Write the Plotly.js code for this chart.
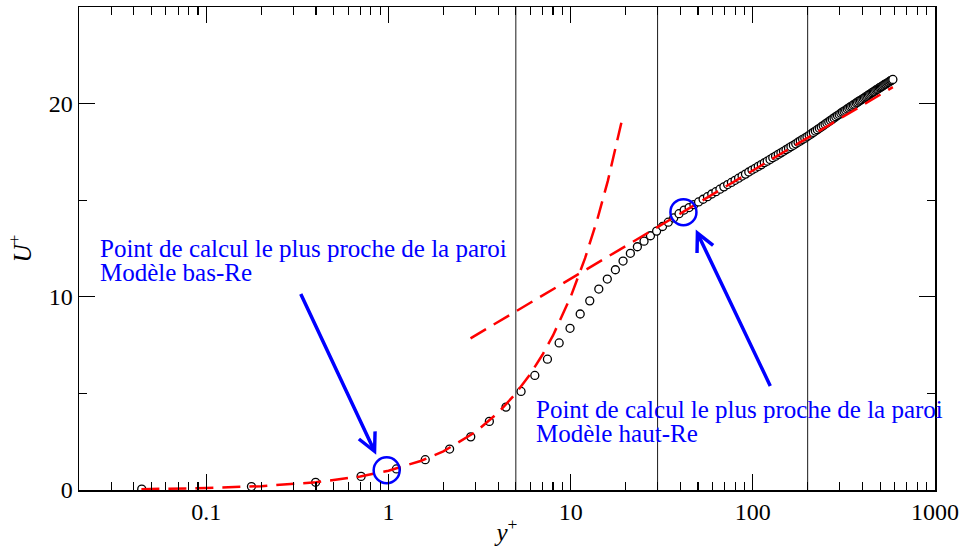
<!DOCTYPE html>
<html>
<head>
<meta charset="utf-8">
<script src="https://cdn.plot.ly/plotly-3.0.1.min.js"></script>
<style>html,body{margin:0;padding:0;background:#fff;}</style>
</head>
<body>
<div id="chart" style="width:961px;height:546px;"></div>
<script>
// DNS-like mean velocity profile (circles)
const yPlus = [0.0442,0.1769,0.398,0.707,1.105,1.591,2.165,2.828,3.578,4.416,5.342,6.356,7.456,8.645,9.920,11.28,12.73,14.27,15.89,17.60,19.39,21.27,23.24,25.28,27.42,29.64,31.94,34.33,36.79,39.35,41.98,44.70,47.50,50.38,53.34,56.38,59.50,62.70,65.98,69.34,72.77,76.28,79.88,83.54,87.28,91.10,95.00,98.96,103.0,107.1,111.3,115.6,119.9,124.3,128.7,133.3,137.9,142.6,147.3,152.1,157.0,161.9,166.9,172.0,177.1,182.3,187.6,192.9,198.2,203.7,209.1,214.7,220.3,225.9,231.6,237.4,243.2,249.1,255.0,261.0,267.0,273.0,279.2,285.3,291.5,297.8,304.1,310.4,316.8,323.2,329.6,336.1,342.7,349.2,355.8,362.5,369.2,375.9,382.6,389.4,396.2,403.0,409.9,416.7,423.6,430.6,437.5,444.5,451.5,458.5,465.6,472.6,479.7,486.8,493.9,501.0,508.2,515.3,522.5,529.6,536.8,544.0,551.2,558.4,565.6,572.8,580.0,587.2];
const uPlus = [0.044,0.177,0.398,0.705,1.09,1.57,2.12,2.75,3.55,4.29,5.10,5.93,6.77,7.61,8.37,9.11,9.79,10.40,10.92,11.40,11.85,12.25,12.59,12.88,13.16,13.40,13.64,13.86,14.08,14.30,14.49,14.62,14.77,14.91,15.05,15.18,15.32,15.44,15.57,15.69,15.81,15.92,16.03,16.14,16.25,16.35,16.46,16.56,16.65,16.75,16.84,16.94,17.02,17.11,17.20,17.28,17.37,17.45,17.53,17.61,17.69,17.77,17.84,17.92,18.00,18.07,18.15,18.21,18.28,18.36,18.43,18.51,18.58,18.65,18.72,18.79,18.86,18.93,19.00,19.06,19.13,19.19,19.26,19.32,19.38,19.44,19.50,19.56,19.61,19.66,19.72,19.77,19.83,19.87,19.93,19.97,20.03,20.07,20.13,20.17,20.21,20.26,20.30,20.35,20.39,20.44,20.48,20.52,20.57,20.61,20.64,20.69,20.73,20.76,20.81,20.84,20.88,20.91,20.95,20.99,21.02,21.05,21.09,21.12,21.16,21.19,21.22,21.25];

// viscous sublayer U+ = y+ (red dashed)
const visY = [0.044,0.1,0.2,0.4,0.7,1,1.5,2,3,4,5,6,7,8,10,12,14,16,19.4];
const visU = [0.044,0.1,0.2,0.4,0.7,1,1.5,2,3,4,5,6,7,8,10,12,14,16,19.4];

// log law (red dashed, straight on semi-log axes)
const logY = [2.82, 587];
const logU = [7.85, 20.85];

// vertical reference lines
const vLinesX = [5, 30, 200];
const vLineU = [0, 25];

// highlighted points (blue circles)
const hlX = [0.977, 41.6];
const hlY = [1.02, 14.38];

// arrows
const arrowTipX = [0.856, 48.6];
const arrowTipY = [1.82, 13.48];
const arrowTailX = [0.327, 125.8];
const arrowTailY = [10.22, 5.31];

// notes
const noteLine1 = ['Point de calcul le plus proche de la paroi', 'Point de calcul le plus proche de la paroi'];
const noteLine2 = ['Modèle bas-Re', 'Modèle haut-Re'];
const noteX = [0.0220, 0.5310];
const noteY1 = [0.500, 0.167];
const noteY2 = [0.450, 0.1176];

const FONT = 'Liberation Serif';

const traces = [];
vLinesX.forEach(v => traces.push({
  x: [v, v], y: vLineU, mode: 'lines', line: {color: '#1a1a1a', width: 1}, hoverinfo: 'skip', showlegend: false
}));
traces.push({
  x: yPlus, y: uPlus, mode: 'markers', showlegend: false,
  marker: {symbol: 'circle', size: 8, color: 'white', line: {color: 'black', width: 1.3}}
});
traces.push({
  x: visY, y: visU, mode: 'lines', showlegend: false,
  line: {color: '#ff0000', width: 2.5, dash: '18px,9px'}
});
traces.push({
  x: logY, y: logU, mode: 'lines', showlegend: false,
  line: {color: '#ff0000', width: 2.5, dash: '18px,9px'}
});
traces.push({
  x: hlX, y: hlY, mode: 'markers', showlegend: false,
  marker: {symbol: 'circle-open', size: 26, color: '#0000ff', line: {color: '#0000ff', width: 2.5}}
});

const annotations = [];
for (let i = 0; i < arrowTipX.length; i++) {
  annotations.push({
    x: Math.log10(arrowTipX[i]), y: arrowTipY[i], xref: 'x', yref: 'y',
    ax: Math.log10(arrowTailX[i]), ay: arrowTailY[i], axref: 'x', ayref: 'y',
    text: '', showarrow: true, arrowhead: 5, arrowsize: 1.0, arrowwidth: 3.5,
    arrowcolor: '#0000ff', standoff: 0, startstandoff: 0
  });
  annotations.push({
    x: noteX[i], y: noteY1[i], xref: 'paper', yref: 'paper', xanchor: 'left', yanchor: 'middle',
    text: noteLine1[i], showarrow: false, font: {family: FONT, size: 25, color: '#0000ff'}
  });
  annotations.push({
    x: noteX[i], y: noteY2[i], xref: 'paper', yref: 'paper', xanchor: 'left', yanchor: 'middle',
    text: noteLine2[i], showarrow: false, font: {family: FONT, size: 25, color: '#0000ff'}
  });
}

const axisCommon = {
  showgrid: false, zeroline: false, showline: true, linecolor: 'black', linewidth: 1.5,
  mirror: 'ticks', ticks: 'inside', ticklen: 16, tickwidth: 1.3, tickcolor: 'black',
  tickfont: {family: FONT, size: 24, color: 'black'}
};

const layout = {
  width: 961, height: 546,
  margin: {l: 79, r: 26, t: 7, b: 56},
  paper_bgcolor: 'white', plot_bgcolor: 'white',
  font: {family: FONT, size: 24, color: 'black'},
  showlegend: false,
  xaxis: Object.assign({}, axisCommon, {
    type: 'log', range: [Math.log10(0.02), 3], dtick: 1, exponentformat: 'none',
    minor: {dtick: 'D1', ticks: 'inside', ticklen: 8, tickwidth: 1.1, tickcolor: 'black', showgrid: false},
    title: {text: '<i>y</i><sup>+</sup>', font: {family: FONT, size: 25}, standoff: 4}
  }),
  yaxis: Object.assign({}, axisCommon, {
    range: [0, 25], dtick: 10, tick0: 0,
    minor: {dtick: 5, ticks: 'inside', ticklen: 8, tickwidth: 1.1, tickcolor: 'black', showgrid: false},
    title: {text: '<i>U</i><sup>+</sup>', font: {family: FONT, size: 25}, standoff: 10}
  }),
  annotations: annotations
};

Plotly.newPlot('chart', traces, layout, {staticPlot: true, displayModeBar: false});
</script>
</body>
</html>
